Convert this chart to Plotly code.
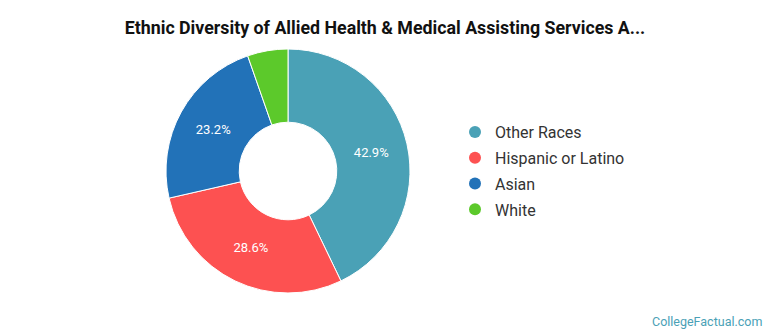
import plotly.graph_objects as go

categories = ["Other Races", "Hispanic or Latino", "Asian", "White"]
values = [42.86, 28.57, 23.21, 5.36]
colors = ["#4aa1b6", "#fd5151", "#2272b8", "#5cc92b"]
label_templates = ["%{percent:.1%}", "%{percent:.1%}", "%{percent:.1%}", ""]

fig = go.Figure()
fig.add_trace(go.Pie(
    labels=categories, values=values, hole=0.4, sort=False, direction="clockwise",
    rotation=0, marker=dict(colors=colors, line=dict(color="white", width=1)),
    texttemplate=label_templates, textposition="inside", insidetextorientation="horizontal",
    textfont=dict(color="white", size=13, family="Roboto"),
    domain=dict(x=[166/770, 410/770], y=[1-293/335, 1-49/335]),
    showlegend=False, hoverinfo="label+percent",
))
for name, c in zip(categories, colors):
    fig.add_trace(go.Scatter(x=[None], y=[None], mode="markers", name=name, legendgroup=name,
                             marker=dict(symbol="circle", size=17, color=c), showlegend=True))

fig.update_layout(
    width=770, height=335, margin=dict(l=0, r=0, t=0, b=0),
    paper_bgcolor="white", plot_bgcolor="white",
    title=dict(text="<b>Ethnic Diversity of Allied Health & Medical Assisting Services A...</b>",
               x=0.5, xanchor="center", y=1-28/335, yanchor="middle",
               font=dict(family="Roboto", size=17.8, color="#111111")),
    xaxis=dict(visible=False), yaxis=dict(visible=False),
    legend=dict(x=455/770, y=1-115/335, xanchor="left", yanchor="top",
                font=dict(family="Roboto", size=16, color="#333333"),
                itemsizing="constant", tracegroupgap=2, bgcolor="rgba(0,0,0,0)"),
    annotations=[dict(text="CollegeFactual.com", x=764/770, y=1-321/335, xref="paper", yref="paper",
                      xanchor="right", yanchor="middle", showarrow=False,
                      font=dict(family="Roboto", size=12.5, color="#4aa1b6"))],
)
fig.write_html("out.html")
